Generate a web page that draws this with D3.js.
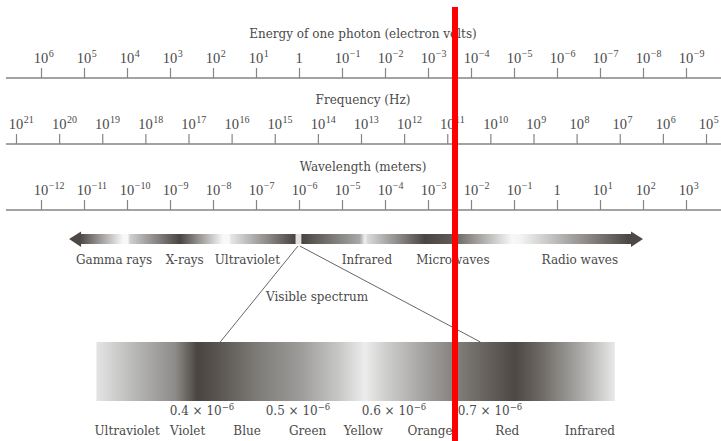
<!DOCTYPE html>
<html>
<head>
<meta charset="utf-8">
<script src="https://cdn.jsdelivr.net/npm/d3@7"></script>
<style>
  body { margin: 0; background: #fff; }
  text { fill: #4a4a4a; }
</style>
</head>
<body>
<script>
// tick exponents of the three scales
const energyExp = [6, 5, 4, 3, 2, 1, 0, -1, -2, -3, -4, -5, -6, -7, -8, -9];
const freqExp = [21, 20, 19, 18, 17, 16, 15, 14, 13, 12, 11, 10, 9, 8, 7, 6, 5];
const waveExp = [-12, -11, -10, -9, -8, -7, -6, -5, -4, -3, -2, -1, 0, 1, 2, 3];

// bands on the big arrow (wavelength in meters)
const bandNames = ["Gamma rays", "X-rays", "Ultraviolet", "Infrared", "Microwaves", "Radio waves"];
const bandWave = [5e-11, 2.2e-9, 6.3e-8, 3.8e-5, 3.8e-3, 3.4];
const arrowEnds = [4.5e-12, 1e2];
const visibleBand = [8.5e-7, 1.1e-6];

// visible spectrum (wavelength in micrometers)
const visTicks = [0.4, 0.5, 0.6, 0.7];
const colorNames = ["Ultraviolet", "Violet", "Blue", "Green", "Yellow", "Orange", "Red", "Infrared"];
const colorWave = [0.322, 0.385, 0.447, 0.51, 0.568, 0.6375, 0.718, 0.804];
const visRange = [0.29, 0.83];
const zoomTo = [0.419, 0.69];

// shading of the bars
const arrowStops = [
  [4.5e-12, "#4d4843"], [8.1e-12, "#4d4843"], [8.1e-11, "#f8f8f8"], [1.05e-10, "#f8f8f8"],
  [1.17e-10, "#cfcfcf"], [1.7e-9, "#4a4540"], [1.7e-8, "#f8f8f8"], [2.4e-8, "#f8f8f8"],
  [2.6e-8, "#e6e6e6"], [8.1e-7, "#4a4540"], [8.5e-7, "#e0e0e0"], [1.1e-6, "#e0e0e0"],
  [1.17e-6, "#4a4540"], [2.6e-5, "#a8a8a6"], [3.4e-5, "#f0f0f0"], [4e-5, "#d8d8d8"],
  [8.5e-4, "#4a4540"], [3.2e-3, "#5d5853"], [0.09, "#f8f8f8"], [0.14, "#f4f4f4"],
  [45, "#4d4843"], [1e2, "#4d4843"]
];
const visStops = [
  [0.29, "#e4e4e4"], [0.335, "#b2b2b0"], [0.372, "#8e8c8a"], [0.395, "#4a4540"],
  [0.414, "#57524d"], [0.46, "#7f7d7a"], [0.502, "#9c9b99"], [0.544, "#c9c9c8"],
  [0.57, "#ececec"], [0.591, "#cfcfce"], [0.6375, "#9d9b99"], [0.679, "#75716c"],
  [0.726, "#4d4843"], [0.752, "#6b6763"], [0.794, "#a9a8a6"], [0.83, "#e8e8e8"]
];

const width = 721, height = 441;
const lineColor = "#858585";
const wordFont = "DejaVu Serif";
const numFont = "Liberation Serif";

const energyScale = d3.scaleLog().domain([1e6, 1e-9]).range([41, 686]);
const freqScale = d3.scaleLog().domain([1e21, 1e5]).range([16, 706]);
const waveScale = d3.scaleLog().domain([1e-12, 1e3]).range([41, 686]);
const visScale = d3.scaleLinear().domain([0.4, 0.7]).range([202, 490]);

const svg = d3.select("body").append("svg")
  .attr("width", width)
  .attr("height", height);

const defs = svg.append("defs");

function drawScale(scale, exps, title, titleY, baseY) {
  const g = svg.append("g");

  g.append("text")
    .attr("x", 363).attr("y", titleY)
    .attr("text-anchor", "middle")
    .style("font-family", wordFont).style("font-size", "12px")
    .text(title);

  g.append("line")
    .attr("x1", 6).attr("x2", width)
    .attr("y1", baseY).attr("y2", baseY)
    .attr("stroke", lineColor).attr("stroke-width", 1.3);

  const axis = d3.axisTop(scale)
    .tickValues(exps.map(e => Math.pow(10, e)))
    .tickSize(10)
    .tickFormat("");
  const ax = g.append("g")
    .attr("transform", `translate(0,${baseY})`)
    .call(axis);
  ax.select(".domain").remove();
  ax.selectAll(".tick line").attr("stroke", lineColor).attr("stroke-width", 1.2);

  exps.forEach(e => {
    const x = scale(Math.pow(10, e));
    const base = g.append("text")
      .attr("x", x).attr("y", baseY - 15)
      .attr("text-anchor", "middle")
      .style("font-family", numFont).style("font-size", "14.5px")
      .text(e === 0 ? "1" : "10");
    if (e !== 0) {
      const w = base.node().getComputedTextLength();
      g.append("text")
        .attr("x", x + w / 2 + 0.5).attr("y", baseY - 21.5)
        .style("font-family", numFont).style("font-size", "10px")
        .text(String(e).replace("-", "\u2212"));
    }
  });
}

drawScale(energyScale, energyExp, "Energy of one photon (electron volts)", 38, 78);
drawScale(freqScale, freqExp, "Frequency (Hz)", 104, 144);
drawScale(waveScale, waveExp, "Wavelength (meters)", 171, 210);

// big arrow with spectrum bands
const arrowGrad = defs.append("linearGradient")
  .attr("id", "arrowGrad")
  .attr("gradientUnits", "userSpaceOnUse")
  .attr("x1", waveScale(arrowEnds[0])).attr("x2", waveScale(arrowEnds[1]))
  .attr("y1", 0).attr("y2", 0);
const ax0 = waveScale(arrowEnds[0]), ax1 = waveScale(arrowEnds[1]);
arrowGrad.selectAll("stop")
  .data(arrowStops)
  .join("stop")
  .attr("offset", d => (waveScale(d[0]) - ax0) / (ax1 - ax0))
  .attr("stop-color", d => d[1]);

const barTop = 234, barBot = 244, headTop = 231.5, headBot = 247, headLen = 12;
const arrowPath = d3.path();
arrowPath.moveTo(ax0, (barTop + barBot) / 2);
arrowPath.lineTo(ax0 + headLen, headTop);
arrowPath.lineTo(ax0 + headLen, barTop);
arrowPath.lineTo(ax1 - headLen, barTop);
arrowPath.lineTo(ax1 - headLen, headTop);
arrowPath.lineTo(ax1, (barTop + barBot) / 2);
arrowPath.lineTo(ax1 - headLen, headBot);
arrowPath.lineTo(ax1 - headLen, barBot);
arrowPath.lineTo(ax0 + headLen, barBot);
arrowPath.lineTo(ax0 + headLen, headBot);
arrowPath.closePath();
svg.append("path")
  .attr("d", arrowPath.toString())
  .attr("fill", "url(#arrowGrad)");

svg.append("g").selectAll("text")
  .data(bandNames)
  .join("text")
  .attr("x", (d, i) => waveScale(bandWave[i]))
  .attr("y", 264)
  .attr("text-anchor", "middle")
  .style("font-family", wordFont).style("font-size", "12px")
  .text(d => d);

// zoom lines to the visible spectrum
const rectTop = 342, rectBot = 401;
svg.append("line")
  .attr("x1", waveScale(visibleBand[0]) + 2).attr("y1", barBot + 2)
  .attr("x2", visScale(zoomTo[0])).attr("y2", rectTop)
  .attr("stroke", "#555").attr("stroke-width", 0.9);
svg.append("line")
  .attr("x1", waveScale(visibleBand[1]) - 1).attr("y1", barBot + 2)
  .attr("x2", visScale(zoomTo[1])).attr("y2", rectTop)
  .attr("stroke", "#555").attr("stroke-width", 0.9);

svg.append("text")
  .attr("x", 317).attr("y", 301)
  .attr("text-anchor", "middle")
  .style("font-family", wordFont).style("font-size", "12px")
  .text("Visible spectrum");

// visible spectrum bar
const visGrad = defs.append("linearGradient")
  .attr("id", "visGrad")
  .attr("gradientUnits", "userSpaceOnUse")
  .attr("x1", visScale(visRange[0])).attr("x2", visScale(visRange[1]))
  .attr("y1", 0).attr("y2", 0);
const vx0 = visScale(visRange[0]), vx1 = visScale(visRange[1]);
visGrad.selectAll("stop")
  .data(visStops)
  .join("stop")
  .attr("offset", d => (visScale(d[0]) - vx0) / (vx1 - vx0))
  .attr("stop-color", d => d[1]);

svg.append("rect")
  .attr("x", vx0).attr("y", rectTop)
  .attr("width", vx1 - vx0).attr("height", rectBot - rectTop)
  .attr("fill", "url(#visGrad)");

const visLabels = svg.append("g").selectAll("text")
  .data(visTicks)
  .join("text")
  .attr("x", d => visScale(d))
  .attr("y", 415)
  .attr("text-anchor", "middle")
  .style("font-family", wordFont).style("font-size", "12px");
visLabels.append("tspan").text(d => d.toFixed(1) + " \u00d7 10");
visLabels.append("tspan")
  .attr("dy", -5.5)
  .style("font-size", "8.5px")
  .text("\u22126");

svg.append("g").selectAll("text")
  .data(colorNames)
  .join("text")
  .attr("x", (d, i) => visScale(colorWave[i]))
  .attr("y", 435)
  .attr("text-anchor", "middle")
  .style("font-family", wordFont).style("font-size", "12px")
  .text(d => d);

// red marker line
svg.append("rect")
  .attr("x", 452).attr("y", 7)
  .attr("width", 6).attr("height", height - 7)
  .attr("fill", "#ff0000");
</script>
</body>
</html>
